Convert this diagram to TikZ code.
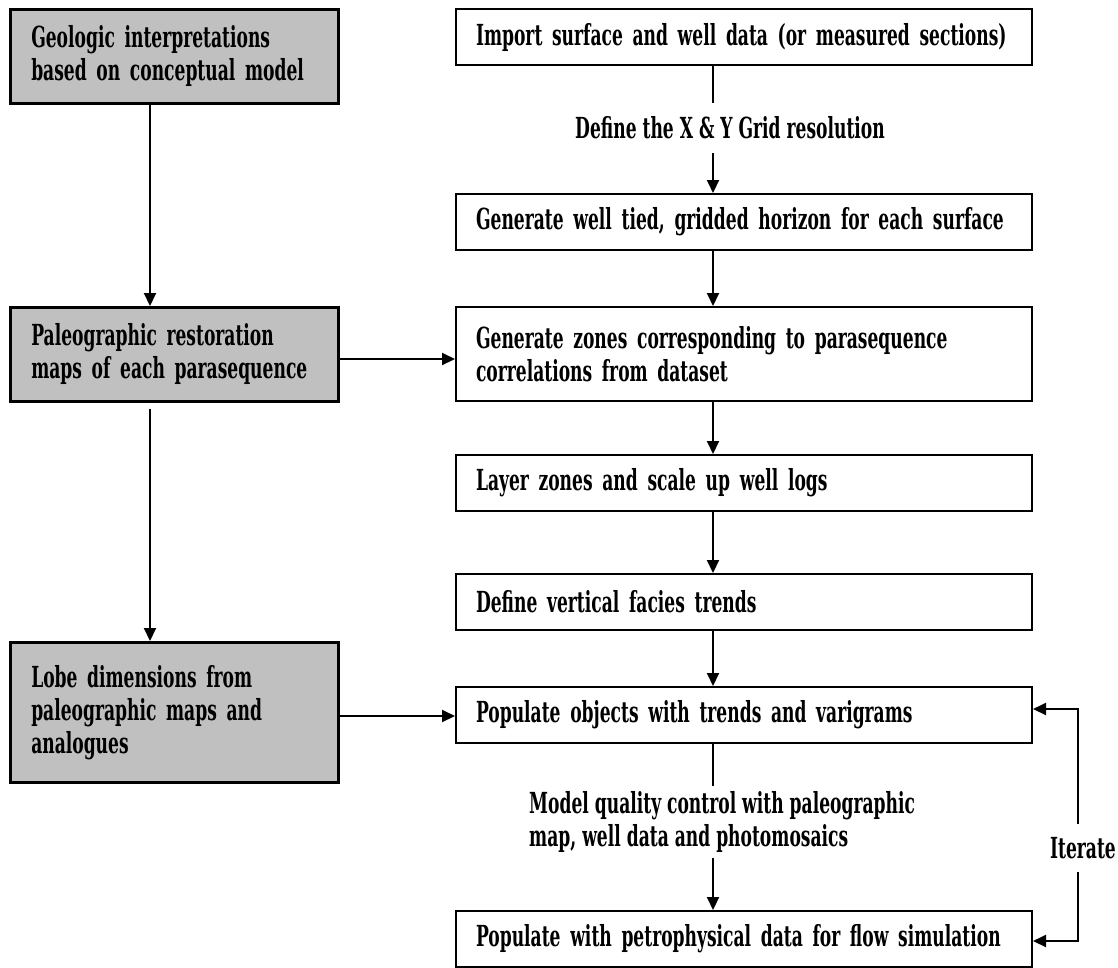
\documentclass[tikz,border=0pt]{standalone}
\usepackage{fontspec}
\newfontfamily\cf{DejaVu Serif}[FakeStretch=0.59]
\usetikzlibrary{arrows.meta}
\definecolor{boxgray}{HTML}{C0C0C0}
\begin{document}
\begin{tikzpicture}[x=1pt,y=-1pt,
  txt/.style={font=\cf\bfseries\fontsize{29}{33}\selectfont},
  rbox/.style={txt, draw, line width=2pt, text width=536pt, inner xsep=20pt, inner ysep=0pt, align=left, anchor=north west, minimum height=56pt},
  lbox/.style={txt, draw, fill=boxgray, line width=2.5pt, text width=286pt, inner xsep=21pt, inner ysep=0pt, align=left, anchor=north west},
  lab/.style={txt, inner sep=0pt, align=left},
  arr/.style={line width=2pt, -{Triangle[length=13pt,width=12pt]}},
  ln/.style={line width=2pt}
]
\useasboundingbox (0,0) rectangle (1118,967);
% left column
\node[lbox, minimum height=94pt] (L1) at (9,8) {Geologic interpretations\\based on conceptual model};
\node[lbox, minimum height=94pt] (L2) at (9,306) {Paleographic restoration\\maps of each parasequence};
\node[lbox, minimum height=140pt] (L3) at (9,641) {Lobe dimensions from\\paleographic maps and\\analogues};
% right column
\node[rbox] (A) at (455,8) {\mbox{Import surface and well data (or measured sections)}};
\node[rbox] (B) at (455,193) {\mbox{Generate well tied, gridded horizon for each surface}};
\node[rbox, minimum height=94pt] (C) at (455,306) {Generate zones corresponding to parasequence\\correlations from dataset};
\node[rbox] (D) at (455,454) {Layer zones and scale up well logs};
\node[rbox] (E) at (455,573) {Define vertical facies trends};
\node[rbox] (F) at (455,686) {Populate objects with trends and varigrams};
\node[rbox] (G) at (455,910) {\mbox{Populate with petrophysical data for flow simulation}};
% labels
\node[lab, minimum height=50pt] (gridlab) at (730,128) {Define the X \& Y Grid resolution};
\node[lab, minimum height=72pt, anchor=west] (qclab) at (529,822) {Model quality control with paleographic\\map, well data and photomosaics};
\node[lab, minimum height=47pt] (itlab) at (1083,848) {Iterate};
\coordinate (cx) at (713,0);
\coordinate (lx) at (150,0);
\coordinate (ix) at (1078,0);
\coordinate (yc) at (0,359);
\coordinate (yf) at (0,716);
\coordinate (yfi) at (0,709);
\coordinate (ygi) at (0,941);
% right column connectors
\draw[ln] (A.south -| cx) -- (gridlab.north -| cx);
\draw[arr] (gridlab.south -| cx) -- (B.north -| cx);
\draw[arr] (B.south -| cx) -- (C.north -| cx);
\draw[arr] (C.south -| cx) -- (D.north -| cx);
\draw[arr] (D.south -| cx) -- (E.north -| cx);
\draw[arr] (E.south -| cx) -- (F.north -| cx);
\draw[ln] (F.south -| cx) -- (qclab.north -| cx);
\draw[arr] (qclab.south -| cx) -- (G.north -| cx);
% left column connectors
\draw[arr] (L1.south -| lx) -- (L2.north -| lx);
\draw[arr, shorten <=6pt] (L2.south -| lx) -- (L3.north -| lx);
\draw[arr] (L2.east |- yc) -- (C.west |- yc);
\draw[arr] (L3.east |- yf) -- (F.west |- yf);
% iterate loop
\draw[arr] (itlab.north -| ix) |- (F.east |- yfi);
\draw[arr] (itlab.south -| ix) |- (G.east |- ygi);
\end{tikzpicture}
\end{document}
